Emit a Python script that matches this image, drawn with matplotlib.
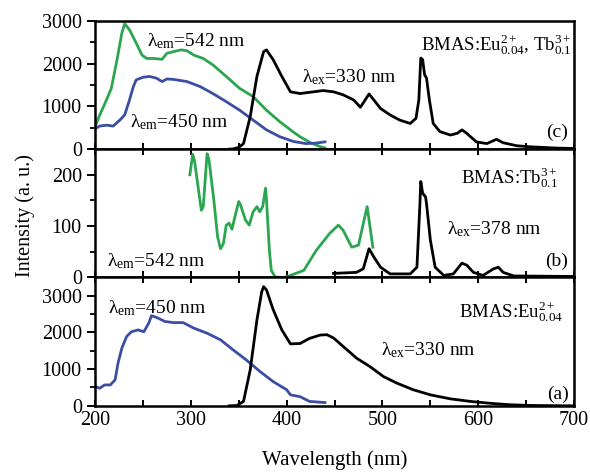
# excitation / emission spectra of BMAS phosphors, three stacked panels
import matplotlib
matplotlib.use("Agg")
import matplotlib.pyplot as plt
from matplotlib.ticker import MultipleLocator

plt.rcParams['font.family'] = 'Liberation Serif'
plt.rcParams['mathtext.fontset'] = 'custom'
plt.rcParams['mathtext.rm'] = 'Liberation Serif'
plt.rcParams['mathtext.it'] = 'Liberation Serif:italic'

GREEN = '#2ba650'
BLUE = '#3b4ea3'

# panel (c): Eu0.04 + Tb0.1
c_green_x = [200, 205, 212, 217, 223, 228, 231, 236, 243, 249, 254, 261, 270, 275, 282, 290, 296,
             303, 313, 323, 337, 351, 365, 379, 393, 407, 414, 425, 435, 440]
c_green_y = [520, 800, 1150, 1420, 2090, 2710, 2930, 2790, 2480, 2200, 2120, 2120, 2100, 2240, 2280,
             2320, 2300, 2200, 2120, 1970, 1700, 1420, 1230, 910, 640, 400, 290, 150, 60, 30]
c_blue_x = [200, 205, 212, 219, 226, 231, 236, 240, 243, 250, 257, 264, 270, 275, 282, 296, 310,
            323, 337, 351, 365, 379, 393, 407, 420, 430, 440]
c_blue_y = [480, 540, 560, 540, 680, 800, 1150, 1460, 1620, 1680, 1700, 1660, 1580, 1640, 1630,
            1580, 1460, 1300, 1110, 910, 680, 450, 290, 180, 130, 140, 170]
c_black_x = [340, 344, 350, 355, 362, 369, 376, 379, 386, 395, 404, 414, 428, 438, 449, 459, 470,
             477, 482, 486, 491, 498, 508, 518, 529, 535, 538, 540, 542, 544, 546, 549, 553,
             560, 571, 578, 583, 588, 598, 609, 619, 626, 640, 654, 682, 700]
c_black_y = [0, 5, 40, 130, 760, 1700, 2280, 2320, 2090, 1700, 1340, 1300, 1340, 1370, 1340, 1270,
             1150, 980, 1150, 1290, 1150, 950, 800, 680, 600, 720, 1150, 2130, 2090, 1740,
             1660, 1150, 600, 410, 330, 370, 450, 370, 170, 130, 230, 150, 80, 55, 25, 15]

# panel (b): Tb0.1
b_green_x = [299, 302, 304, 308, 311, 313, 316, 317, 319, 324, 328, 331, 334, 337, 340, 343, 346,
             350, 352, 357, 361, 365, 369, 372, 375, 378, 379, 382, 384, 388, 397, 404, 418,
             431, 445, 454, 459, 468, 475, 480, 484, 487, 490]
b_green_y = [200, 240, 226, 171, 131, 138, 216, 241, 229, 151, 79, 56, 66, 102, 106, 94, 118,
             148, 141, 112, 102, 128, 138, 128, 138, 174, 151, 53, 14, 1, 0, 4, 14,
             53, 86, 102, 92, 59, 63, 105, 138, 99, 59]
b_black_x = [449, 473, 480, 486, 491, 498, 508, 529, 536, 539, 540, 542, 545, 546, 550, 555, 564,
             574, 583, 588, 595, 605, 616, 621, 626, 637, 700]
b_black_y = [8, 10, 17, 56, 40, 20, 7, 7, 20, 138, 187, 164, 157, 144, 73, 20, 4,
             7, 28, 24, 10, 4, 17, 20, 10, 3, 2]

# panel (a): Eu0.04
a_blue_x = [200, 205, 210, 216, 221, 224, 228, 233, 238, 245, 251, 256, 259, 266, 273, 282, 292,
            303, 317, 331, 344, 358, 372, 386, 400, 404, 414, 424, 440]
a_blue_y = [530, 480, 570, 570, 710, 1160, 1570, 1890, 2020, 2070, 2020, 2250, 2460, 2390, 2300,
            2270, 2270, 2120, 1980, 1800, 1530, 1250, 940, 660, 440, 300, 250, 120, 90]
a_black_x = [340, 348, 355, 362, 369, 374, 376, 379, 386, 395, 404, 414, 424, 435, 442, 449, 459,
             473, 487, 501, 515, 532, 550, 571, 592, 612, 633, 654, 700]
a_black_y = [0, 8, 120, 980, 2340, 3110, 3250, 3160, 2620, 2070, 1690, 1700, 1840, 1930, 1940, 1850,
             1620, 1300, 1070, 800, 620, 440, 300, 190, 120, 70, 30, 10, 0]

fig, (ax_c, ax_b, ax_a) = plt.subplots(3, 1, figsize=(5.9, 4.73), dpi=100, sharex=True)
fig.subplots_adjust(left=0.161, right=0.973, top=0.956, bottom=0.142, hspace=0)

lw = 2.0
ax_c.plot(c_green_x, c_green_y, color=GREEN, lw=lw)
ax_c.plot(c_blue_x, c_blue_y, color=BLUE, lw=lw)
ax_c.plot(c_black_x, c_black_y, color='black', lw=lw)
ax_b.plot(b_green_x, b_green_y, color=GREEN, lw=lw)
ax_b.plot(b_black_x, b_black_y, color='black', lw=lw)
ax_a.plot(a_blue_x, a_blue_y, color=BLUE, lw=lw)
ax_a.plot(a_black_x, a_black_y, color='black', lw=lw)

ax_c.set_ylim(0, 3000)
ax_b.set_ylim(0, 250)
ax_a.set_ylim(0, 3500)
ax_a.set_xlim(200, 700)

for ax, major, minor in [(ax_c, 1000, 500), (ax_b, 100, 50), (ax_a, 1000, 500)]:
    ax.yaxis.set_major_locator(MultipleLocator(major))
    ax.yaxis.set_minor_locator(MultipleLocator(minor))
    ax.xaxis.set_major_locator(MultipleLocator(100))
    ax.xaxis.set_minor_locator(MultipleLocator(50))
    ax.tick_params(axis='y', which='major', direction='out', length=6, width=1.4, labelsize=14.5)
    ax.tick_params(axis='y', which='minor', direction='out', length=3.5, width=1.3)
    ax.tick_params(axis='x', which='both', direction='in', length=4.5, width=1.4,
                   top=(ax is not ax_c), labelsize=14.5)
    for s in ax.spines.values():
        s.set_linewidth(1.8)

ax_c.tick_params(axis='x', which='both', top=False)
ax_a.set_xticks([200, 300, 400, 500, 600, 700])

fs = 14
em = r'$\mathregular{\lambda_{em}}$'
ex = r'$\mathregular{\lambda_{ex}}$'

ax_c.text(0.109, 0.84, em + '=542 nm', transform=ax_c.transAxes, fontsize=fs, va='center')
ax_c.text(0.073, 0.21, em + '=450 nm', transform=ax_c.transAxes, fontsize=fs, va='center')
ax_c.text(0.432, 0.56, ex + '=330 nm', transform=ax_c.transAxes, fontsize=fs, va='center')
ax_c.text(0.996, 0.81, r'BMAS:Eu$\mathregular{^{2+}_{0.04}}$, Tb$\mathregular{^{3+}_{0.1}}$',
          transform=ax_c.transAxes, fontsize=13.5, ha='right', va='center')
ax_c.text(0.987, 0.13, '(c)', transform=ax_c.transAxes, fontsize=fs, ha='right', va='center')

ax_b.text(0.967, 0.78, r'BMAS:Tb$\mathregular{^{3+}_{0.1}}$', transform=ax_b.transAxes,
          fontsize=13.5, ha='right', va='center')
ax_b.text(0.735, 0.375, ex + '=378 nm', transform=ax_b.transAxes, fontsize=fs, va='center')
ax_b.text(0.987, 0.125, '(b)', transform=ax_b.transAxes, fontsize=fs, ha='right', va='center')
ax_b.text(0.025, 0.13, em + '=542 nm', transform=ax_b.transAxes, fontsize=fs, va='center')

ax_a.text(0.027, 0.76, em + '=450 nm', transform=ax_a.transAxes, fontsize=fs, va='center')
ax_a.text(0.977, 0.736, r'BMAS:Eu$\mathregular{^{2+}_{0.04}}$', transform=ax_a.transAxes,
          fontsize=13.5, ha='right', va='center')
ax_a.text(0.597, 0.434, ex + '=330 nm', transform=ax_a.transAxes, fontsize=fs, va='center')
ax_a.text(0.99, 0.093, '(a)', transform=ax_a.transAxes, fontsize=fs, ha='right', va='center')

fig.text(0.042, 0.545, 'Intensity (a. u.)', rotation=90, ha='center', va='center', fontsize=14.5)
fig.text(0.567, 0.027, 'Wavelength (nm)', ha='center', va='center', fontsize=15)

plt.savefig('out.png', dpi=100)
